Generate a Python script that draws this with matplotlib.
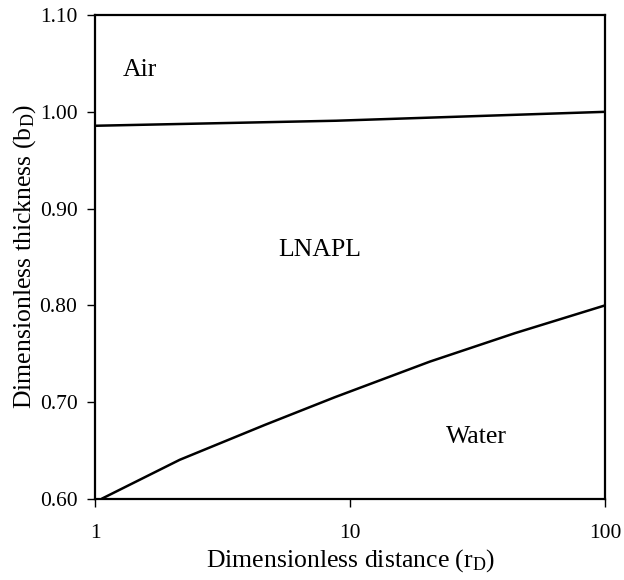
import numpy as np
import matplotlib.pyplot as plt
from matplotlib.ticker import FixedLocator, NullLocator, FormatStrFormatter

plt.rcParams['font.family'] = ['Liberation Serif', 'DejaVu Serif']
plt.rcParams['mathtext.fontset'] = 'custom'
plt.rcParams['mathtext.rm'] = 'Liberation Serif'
plt.rcParams['mathtext.it'] = 'Liberation Serif:italic'

# air/LNAPL interface
r_top = [1.0, 8.8, 100.0]
b_top = [0.9856, 0.9908, 1.0]

# LNAPL/water interface
r_bot = [1.057, 2.14, 4.62, 8.69, 20.5, 44.2, 100.0]
b_bot = [0.600, 0.6403, 0.6764, 0.705, 0.7418, 0.7712, 0.800]

y_ticks = [0.60, 0.70, 0.80, 0.90, 1.00, 1.10]
x_ticks = [1, 10, 100]

fig = plt.figure(figsize=(6.24, 5.80), dpi=100)
ax = fig.add_axes([0.153, 0.140, 0.817, 0.834])

ax.plot(r_top, b_top, color='black', lw=1.8, solid_capstyle='butt')
ax.plot(r_bot, b_bot, color='black', lw=1.8, solid_capstyle='butt')

ax.set_xscale('log')
ax.set_xlim(1, 100)
ax.set_ylim(0.60, 1.10)
ax.xaxis.set_major_locator(FixedLocator(x_ticks))
ax.xaxis.set_minor_locator(NullLocator())
ax.set_xticklabels([str(t) for t in x_ticks])
ax.yaxis.set_major_locator(FixedLocator(y_ticks))
ax.yaxis.set_major_formatter(FormatStrFormatter('%.2f'))

ax.tick_params(axis='both', direction='out', length=6, width=1.0,
               labelsize=15.5, colors='black')
ax.tick_params(axis='x', pad=12)
ax.tick_params(axis='y', pad=7)
for s in ax.spines.values():
    s.set_linewidth(1.6)

ax.text(1.5, 1.043, 'Air', fontsize=18.5, ha='center', va='center')
ax.text(7.6, 0.857, 'LNAPL', fontsize=18.5, ha='center', va='center')
ax.text(31.3, 0.664, 'Water', fontsize=18.5, ha='center', va='center')

ax.set_xlabel(r'Dimensionless distance (r$_\mathrm{D}$)', fontsize=18.5, labelpad=3)
ax.set_ylabel(r'Dimensionless thickness (b$_\mathrm{D}$)', fontsize=18.5, labelpad=1)

fig.savefig('out.png', dpi=100)
